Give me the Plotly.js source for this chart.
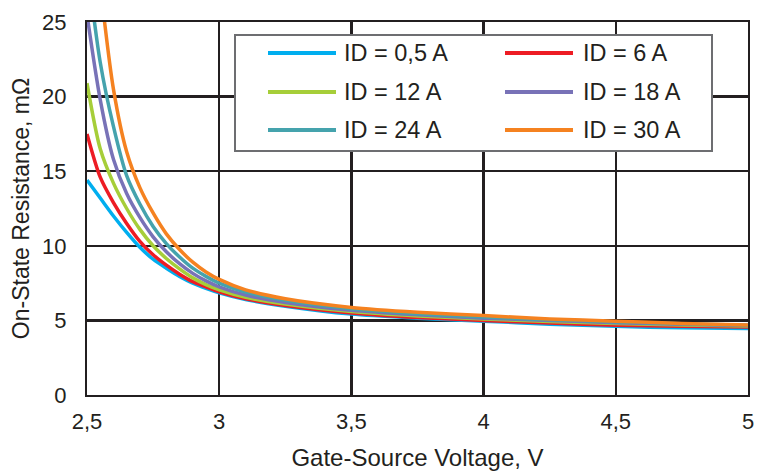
<!DOCTYPE html>
<html>
<head>
<meta charset="utf-8">
<script src="https://cdn.plot.ly/plotly-3.0.1.min.js"></script>
<style>html,body{margin:0;padding:0;background:#fff;}#chart{width:765px;height:472px;}</style>
</head>
<body>
<div id="chart"></div>
<script>
// Gate-source voltage (V)
var vgs = [2.5, 2.55, 2.6, 2.65, 2.7, 2.75, 2.8, 2.85, 2.9, 2.95, 3.0, 3.1, 3.25, 3.5, 3.75, 4.0, 4.25, 4.5, 4.75, 5.0];
// On-state resistance (mOhm) per drain current
var r_0_5A = [14.4, 13.2, 12.0, 10.9, 9.9, 9.1, 8.5, 7.95, 7.5, 7.15, 6.85, 6.4, 5.95, 5.42, 5.15, 4.95, 4.75, 4.6, 4.5, 4.45];
var r_6A   = [17.5, 14.6, 12.9, 11.5, 10.3, 9.4, 8.7, 8.1, 7.6, 7.25, 6.92, 6.45, 6.0, 5.5, 5.2, 5.0, 4.82, 4.68, 4.6, 4.55];
var r_12A  = [20.9, 16.5, 14.2, 12.5, 11.1, 10.0, 9.15, 8.45, 7.85, 7.4, 7.05, 6.55, 6.1, 5.6, 5.3, 5.1, 4.93, 4.8, 4.7, 4.62];
var r_18A  = [25.5, 19.8, 15.8, 13.5, 11.9, 10.6, 9.6, 8.8, 8.15, 7.65, 7.25, 6.7, 6.2, 5.68, 5.38, 5.15, 5.0, 4.85, 4.75, 4.65];
var r_24A  = [29.0, 22.3, 18.0, 14.7, 12.8, 11.3, 10.15, 9.25, 8.5, 7.95, 7.5, 6.9, 6.35, 5.78, 5.45, 5.22, 5.05, 4.9, 4.78, 4.68];
var r_30A  = [36.0, 27.5, 20.5, 16.3, 13.9, 12.2, 10.8, 9.75, 8.9, 8.25, 7.75, 7.05, 6.45, 5.87, 5.55, 5.33, 5.1, 4.95, 4.8, 4.7];

var seriesNames = ["ID = 0,5 A", "ID = 6 A", "ID = 12 A", "ID = 18 A", "ID = 24 A", "ID = 30 A"];
var seriesColors = ["#00aeef", "#ed1c24", "#a6ce39", "#7872b7", "#45a3ad", "#f58220"];
var seriesValues = [r_0_5A, r_6A, r_12A, r_18A, r_24A, r_30A];

var xTickVals = [2.5, 3, 3.5, 4, 4.5, 5];
var xTickText = ["2,5", "3", "3,5", "4", "4,5", "5"];
var yTickVals = [0, 5, 10, 15, 20, 25];

var W = 765, H = 472;
var mL = 87, mR = 17, mT = 22, mB = 77;
var pw = W - mL - mR, ph = H - mT - mB;
function px(x){ return (x - mL) / pw; }
function py(y){ return (H - mB - y) / ph; }

var textColor = "#231f20";
var fontFam = "Liberation Sans, Arial, sans-serif";

var traces = seriesValues.map(function(v, i){
  return {
    x: vgs, y: v, type: "scatter", mode: "lines", name: seriesNames[i],
    line: {color: seriesColors[i], width: 3.5, shape: "spline", smoothing: 0.8},
    showlegend: false, hoverinfo: "skip"
  };
});

// custom legend (box, samples, labels)
var shapes = [{
  type: "rect", xref: "paper", yref: "paper",
  x0: px(235), x1: px(712), y0: py(151), y1: py(35),
  fillcolor: "#ffffff", line: {color: "#6d6e71", width: 2}, layer: "above"
}];
var annotations = [];
var rowY = [53, 92, 130];
var colLine = [[268, 336], [505, 573]];
var colText = [342, 581];
for (var i = 0; i < seriesNames.length; i++) {
  var c = i % 2, r = Math.floor(i / 2);
  shapes.push({
    type: "line", xref: "paper", yref: "paper",
    x0: px(colLine[c][0]), x1: px(colLine[c][1]), y0: py(rowY[r]), y1: py(rowY[r]),
    line: {color: seriesColors[i], width: 4}, layer: "above"
  });
  annotations.push({
    xref: "paper", yref: "paper", x: px(colText[c]), y: py(rowY[r]),
    xanchor: "left", yanchor: "middle", showarrow: false,
    text: seriesNames[i], font: {family: fontFam, size: 23.5, color: textColor}
  });
}

var layout = {
  width: W, height: H,
  margin: {l: mL, r: mR, t: mT, b: mB},
  paper_bgcolor: "#ffffff", plot_bgcolor: "#ffffff",
  font: {family: fontFam, size: 22, color: textColor},
  showlegend: false,
  xaxis: {
    range: [2.5, 5], tickvals: xTickVals, ticktext: xTickText,
    showgrid: true, gridcolor: textColor, gridwidth: 2.5,
    zeroline: false, showline: true, linecolor: textColor, linewidth: 2, mirror: true,
    ticks: "", ticklabelstandoff: 6,
    tickfont: {family: fontFam, size: 22, color: textColor},
    title: {text: "Gate-Source Voltage, V", font: {family: fontFam, size: 24, color: textColor}, standoff: 16},
    automargin: false, fixedrange: true
  },
  yaxis: {
    range: [0, 25], tickvals: yTickVals,
    showgrid: true, gridcolor: textColor, gridwidth: 2.5,
    zeroline: false, showline: true, linecolor: textColor, linewidth: 2, mirror: true,
    ticks: "", ticklabelstandoff: 14,
    tickfont: {family: fontFam, size: 22, color: textColor},
    title: {text: "On-State Resistance, mΩ", font: {family: fontFam, size: 23, color: textColor}, standoff: 6},
    automargin: false, fixedrange: true
  },
  shapes: shapes,
  annotations: annotations
};

Plotly.newPlot("chart", traces, layout, {displayModeBar: false, staticPlot: true});
</script>
</body>
</html>
